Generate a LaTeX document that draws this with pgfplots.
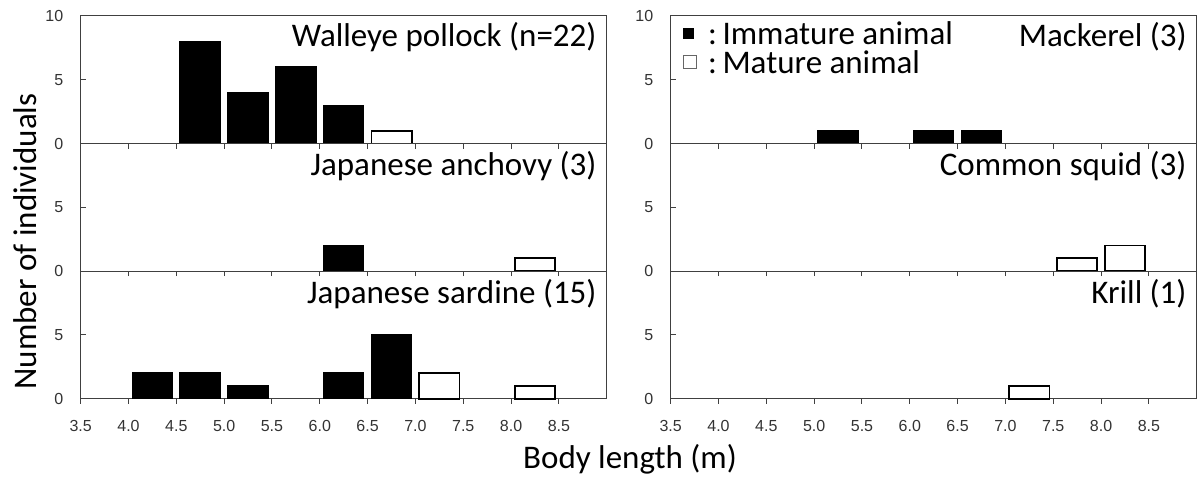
\documentclass[border=0pt]{standalone}
\usepackage{fontspec}
\setmainfont{Carlito}
\newfontfamily\tickfont{Liberation Sans}
\usepackage{pgfplots}
\pgfplotsset{compat=1.18}

\pgfplotsset{
  panel/.style={
    width=526pt, height=127.6pt, scale only axis,
    xmin=3.5, xmax=9, ymin=0, ymax=10,
    xtick={3.5,4.0,4.5,5.0,5.5,6.0,6.5,7.0,7.5,8.0,8.5},
    tick align=inside, xtick pos=bottom, ytick pos=left,
    major tick length=5pt,
    axis line style={draw=black!75, line width=1.1pt},
    every tick/.style={black!75, line width=1pt},
    ticklabel style={font=\tickfont\fontsize{16}{16}\selectfont, text=black!80},
    /pgf/number format/assume math mode=true,
    yticklabel style={xshift=-14pt},
    xticklabel style={yshift=-13pt},
    ybar, bar width=0.42, bar shift=0pt,
    clip=false,
  },
  nolabx/.style={xticklabels={}},
  labx/.style={xticklabels={3.5,4.0,4.5,5.0,5.5,6.0,6.5,7.0,7.5,8.0,8.5}},
  imm/.style={fill=black, draw=black, line width=1.4pt},
  mat/.style={fill=white, draw=black, line width=1.8pt},
}
\tikzset{ttl/.style={anchor=base east, font=\fontsize{33}{36}\selectfont, inner sep=0pt}}

\begin{document}
\begin{tikzpicture}
\path[use as bounding box] (0pt,0pt) rectangle (1202pt,480pt);

% ---------------- left column ----------------
\begin{axis}[panel, nolabx, at={(80.7pt,336.5pt)}, ytick={0,5,10}]
  \addplot[imm] coordinates {(4.75,8) (5.25,4) (5.75,6) (6.25,3)};
  \addplot[mat] coordinates {(6.75,1)};
  \node[ttl] at ([xshift=-10pt,yshift=-31pt]rel axis cs:1,1) {Walleye pollock (n=22)};
\end{axis}

\begin{axis}[panel, nolabx, at={(80.7pt,208.9pt)}, ytick={0,5}]
  \addplot[imm] coordinates {(6.25,2)};
  \addplot[mat] coordinates {(8.25,1)};
  \node[ttl] at ([xshift=-10pt,yshift=-32pt]rel axis cs:1,1) {Japanese anchovy (3)};
\end{axis}

\begin{axis}[panel, labx, at={(80.7pt,81.3pt)}, ytick={0,5}]
  \addplot[imm] coordinates {(4.25,2) (4.75,2) (5.25,1) (6.25,2) (6.75,5)};
  \addplot[mat] coordinates {(7.25,2) (8.25,1)};
  \node[ttl] at ([xshift=-10pt,yshift=-32pt]rel axis cs:1,1) {Japanese sardine (15)};
\end{axis}

% ---------------- right column ----------------
\begin{axis}[panel, nolabx, at={(670.7pt,336.5pt)}, ytick={0,5,10}]
  \addplot[imm] coordinates {(5.25,1) (6.25,1) (6.75,1)};
  \node[ttl] at ([xshift=-10pt,yshift=-31pt]rel axis cs:1,1) {Mackerel (3)};
\end{axis}

\begin{axis}[panel, nolabx, at={(670.7pt,208.9pt)}, ytick={0,5}]
  \addplot[mat] coordinates {(7.75,1) (8.25,2)};
  \node[ttl] at ([xshift=-10pt,yshift=-32pt]rel axis cs:1,1) {Common squid (3)};
\end{axis}

\begin{axis}[panel, labx, at={(670.7pt,81.3pt)}, ytick={0,5}]
  \addplot[mat] coordinates {(7.25,1)};
  \node[ttl] at ([xshift=-10pt,yshift=-32pt]rel axis cs:1,1) {Krill (1)};
\end{axis}

% ---------------- legend (one text block; base = last line) ----------------
\node[anchor=base west, inner sep=0pt, align=left, font=\fontsize{33}{29}\selectfont] at (683pt,406.7pt)
  {\rule[5.3pt]{11pt}{11pt}\hspace{14pt}:\,Immature animal\\
   \raisebox{5.3pt}{\setlength{\fboxsep}{0pt}\setlength{\fboxrule}{1.1pt}\color{black!60}\fbox{\phantom{\rule{11.5pt}{11.5pt}}}}\hspace{11.3pt}:\,Mature animal};

% ---------------- axis titles ----------------
\node[anchor=base, inner sep=0pt, font=\fontsize{33}{36}\selectfont] at (630pt,12pt) {Body length (m)};
\node[anchor=base, rotate=90, inner sep=0pt, font=\fontsize{33}{36}\selectfont] at (36.7pt,238.5pt) {Number of individuals};
\end{tikzpicture}
\end{document}
